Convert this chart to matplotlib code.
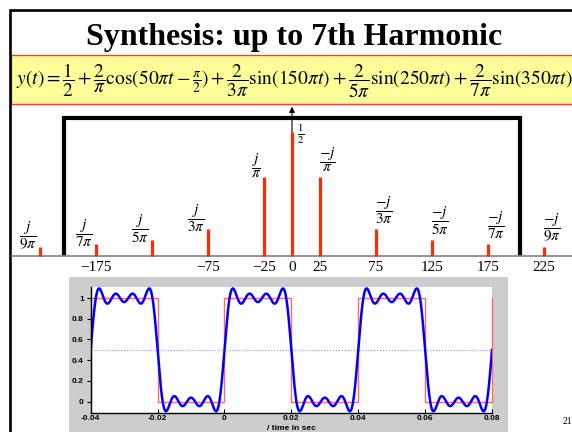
import numpy as np
import matplotlib
matplotlib.use("Agg")
import matplotlib.pyplot as plt
from matplotlib.patches import Rectangle

plt.rcParams['mathtext.fontset'] = 'stix'
plt.rcParams['axes.unicode_minus'] = False

# ---------------- data ----------------
title = "Synthesis: up to 7th Harmonic"
equation = (r"$y(t)=\dfrac{1}{2}+\dfrac{2}{\pi}\cos(50\pi t-\frac{\pi}{2})"
            r"+\dfrac{2}{3\pi}\sin(150\pi t)+\dfrac{2}{5\pi}\sin(250\pi t)"
            r"+\dfrac{2}{7\pi}\sin(350\pi t)$")

spec_freqs = [-225, -175, -125, -75, -25, 0, 25, 75, 125, 175, 225]
spec_mags = [1/(9*np.pi), 1/(7*np.pi), 1/(5*np.pi), 1/(3*np.pi), 1/np.pi, 0.5,
             1/np.pi, 1/(3*np.pi), 1/(5*np.pi), 1/(7*np.pi), 1/(9*np.pi)]
spec_labels = [r"$\dfrac{j}{9\pi}$", r"$\dfrac{j}{7\pi}$", r"$\dfrac{j}{5\pi}$",
               r"$\dfrac{j}{3\pi}$", r"$\dfrac{j}{\pi}$", r"$\frac{1}{2}$",
               r"$\dfrac{-j}{\pi}$", r"$\dfrac{-j}{3\pi}$", r"$\dfrac{-j}{5\pi}$",
               r"$\dfrac{-j}{7\pi}$", r"$\dfrac{-j}{9\pi}$"]
spec_ticks = [-175, -75, -25, 0, 25, 75, 125, 175, 225]
spec_ticklabels = ["\u2212175", "\u221275", "\u221225", "0", "25", "75", "125", "175", "225"]
window_half = 204
window_top = 0.556

# synthesis (from the equation's coefficients)
dc_level = 0.5
harm_freqs = [25, 75, 125, 175]
harm_amps = [2/np.pi, 2/(3*np.pi), 2/(5*np.pi), 2/(7*np.pi)]

# ideal square wave
sq_edges = [-0.04, -0.02, 0.0, 0.02, 0.04, 0.06, 0.08]
sq_levels = [1, 0, 1, 0, 1, 0]

time_xticks = [-0.04, -0.02, 0, 0.02, 0.04, 0.06, 0.08]
time_xticklabels = ["-0.04", "-0.02", "0", "0.02", "0.04", "0.06", "0.08"]
time_yticks = [0, 0.2, 0.4, 0.6, 0.8, 1]
time_yticklabels = ["0", "0.2", "0.4", "0.6", "0.8", "1"]
time_xlabel = "/ time in sec"
page_number = "21"

# ---------------- figure ----------------
W, H = 572, 432
fig = plt.figure(figsize=(W/100, H/100), dpi=100)

def frect(x0, y0, x1, y1):
    return [x0/W, 1 - y1/H, (x1 - x0)/W, (y1 - y0)/H]

bg = fig.add_axes([0, 0, 1, 1], zorder=0)
bg.set_xlim(0, W)
bg.set_ylim(H, 0)
bg.axis('off')

# slide frame
bg.plot([9.5, 9.5, W + 10], [H + 10, 9.5, 9.5], color='black', lw=1.9,
        solid_joinstyle='miter', clip_on=False)
# title
bg.text(294, 45, title, ha='center', va='baseline', fontsize=23,
        fontweight='bold', family='Liberation Serif')
# equation box
bg.add_patch(Rectangle((11, 54.5), W + 20, 49, facecolor='#ffff99',
                       edgecolor='#ff3a3a', lw=1.0))
bg.text(16, 81, equation, ha='left', va='center', fontsize=14)
# grey panel behind time plot
bg.add_patch(Rectangle((69, 277), 439, 170, facecolor='#cdcdcd', edgecolor='none'))
bg.text(563, 421, page_number, ha='left', va='center', fontsize=7,
        family='Liberation Serif')

# ---------------- spectrum ----------------
x0_px, px_per_hz = 292, 1.12
y0_px, px_per_unit = 255.5, 248
top_px, bot_px = 100, 292
axs = fig.add_axes(frect(0, top_px, W, bot_px), zorder=1)
axs.patch.set_alpha(0)
axs.set_xlim(-x0_px/px_per_hz, (W - x0_px)/px_per_hz)
axs.set_ylim(-(bot_px - y0_px)/px_per_unit, (y0_px - top_px)/px_per_unit)
for s in ['top', 'right', 'left']:
    axs.spines[s].set_visible(False)
axs.spines['bottom'].set_position(('data', 0))
axs.spines['bottom'].set_bounds((12 - x0_px)/px_per_hz, (W - x0_px)/px_per_hz)
axs.spines['bottom'].set_color('#8a8a8a')
axs.spines['bottom'].set_linewidth(1.3)
axs.set_yticks([])
axs.set_xticks(spec_ticks)
axs.set_xticklabels(spec_ticklabels, family='Liberation Serif', fontsize=11)
axs.tick_params(axis='x', length=0, pad=4)

# window
axs.plot([-window_half, -window_half, window_half, window_half],
         [0, window_top, window_top, 0], color='black', lw=3,
         solid_joinstyle='miter', solid_capstyle='butt')
# arrow at DC
axs.annotate('', xy=(0, 0.6), xytext=(0, 0), zorder=1,
             arrowprops=dict(arrowstyle='-|>', color='black', lw=0.8,
                             mutation_scale=8, shrinkA=0, shrinkB=0))
axs.vlines(spec_freqs, 0, spec_mags, color='#ff2a00', lw=2.3, zorder=4)

for f, m, lab in zip(spec_freqs, spec_mags, spec_labels):
    if f < 0:
        axs.annotate(lab, xy=(f, m), xytext=(-3*0.72, 11*0.72),
                     textcoords='offset points', ha='right', va='center', fontsize=11)
    elif f > 0:
        axs.annotate(lab, xy=(f, m), xytext=(-1*0.72, 3*0.72),
                     textcoords='offset points', ha='left', va='bottom', fontsize=11)
    else:
        axs.annotate(lab, xy=(f, m), xytext=(5*0.72, -3*0.72),
                     textcoords='offset points', ha='left', va='center', fontsize=11)

# ---------------- time plot ----------------
axt = fig.add_axes(frect(90.7, 286.7, 492, 412.7), zorder=2)
axt.set_facecolor('white')
axt.set_xlim(sq_edges[0], sq_edges[-1])
axt.set_ylim(-0.106, 1.109)
axt.spines['top'].set_visible(False)
axt.spines['right'].set_visible(False)
axt.spines['left'].set_linewidth(1.0)
axt.spines['bottom'].set_linewidth(1.0)

t = np.linspace(sq_edges[0], sq_edges[-1], 3000)
y = dc_level + sum(a*np.sin(2*np.pi*f*t) for f, a in zip(harm_freqs, harm_amps))

sx = [sq_edges[0]]
sy = [0]
for i, lev in enumerate(sq_levels):
    sx += [sq_edges[i], sq_edges[i+1]]
    sy += [lev, lev]
sx += [sq_edges[-1]]
sy += [1]
axt.axhline(dc_level, color='#8c8cff', lw=0.8, ls=':')
axt.plot(sx, sy, color='#ff6a6a', lw=1.0, clip_on=False)
axt.plot(t, y, color='#0000ff', lw=1.8)

axt.set_xticks(time_xticks)
axt.set_xticklabels(time_xticklabels, fontsize=6, fontweight='bold',
                    family='Liberation Sans')
axt.set_yticks(time_yticks)
axt.set_yticklabels(time_yticklabels, fontsize=6, fontweight='bold',
                    family='Liberation Sans')
axt.tick_params(axis='x', direction='in', length=3, pad=2)
axt.tick_params(axis='y', direction='out', length=3, pad=2)
axt.set_xlabel(time_xlabel, fontsize=6, fontweight='bold', family='Liberation Sans',
               labelpad=1.5)

fig.savefig("out.png", dpi=100)
